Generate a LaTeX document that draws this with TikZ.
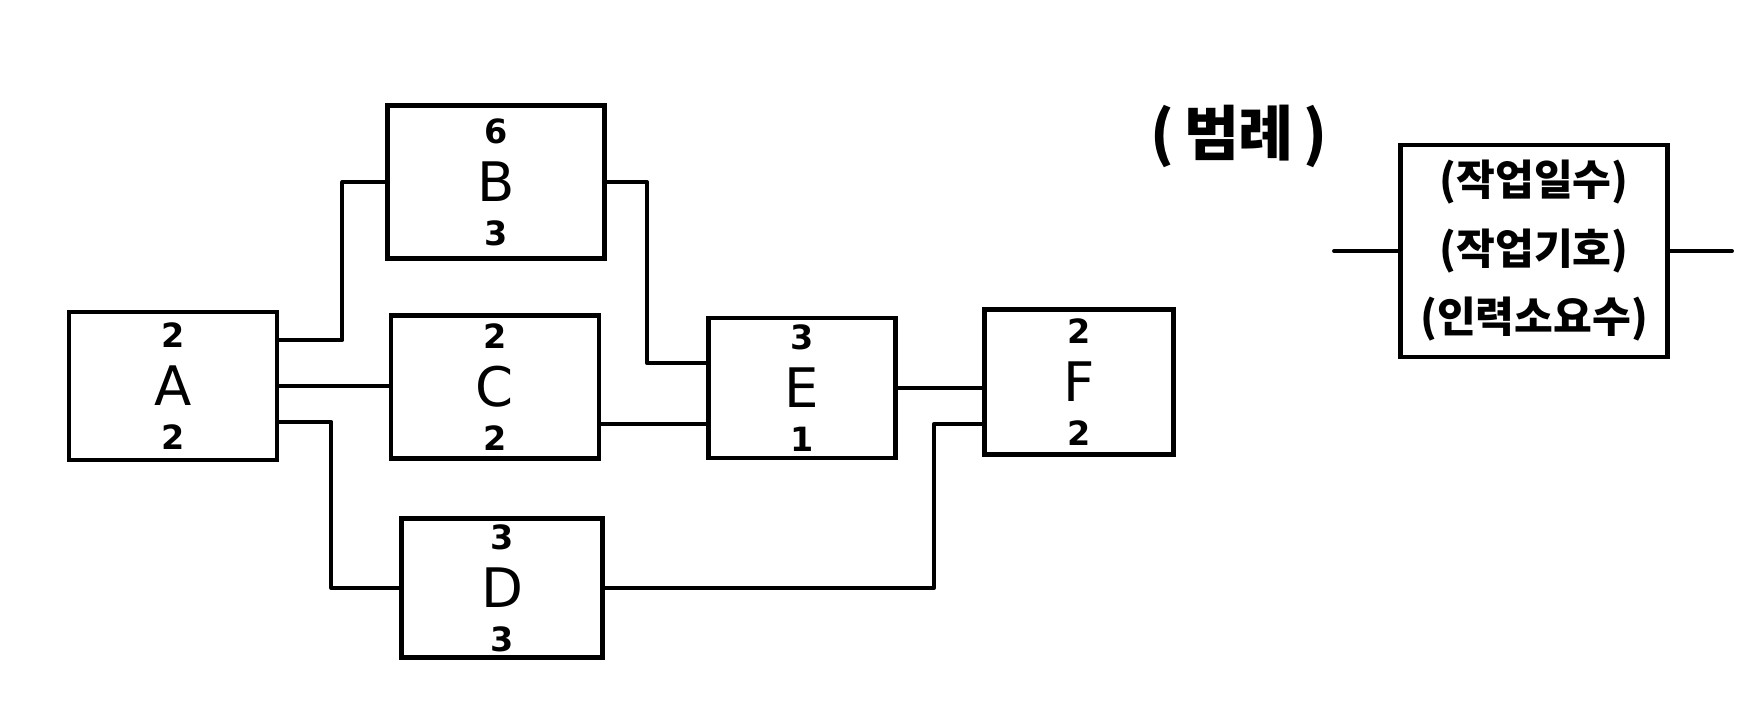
\documentclass[tikz,border=0pt]{standalone}
\usepackage{fontspec}
\setmainfont{DejaVu Sans}
\newfontfamily\kor{Noto Sans CJK KR}
\usetikzlibrary{calc}
\newcommand{\jobtext}[3]{\textbf{#1}\\[4pt]{\fontsize{31}{30}\selectfont #2}\\[-4pt]\textbf{#3}}

\begin{document}
\begin{tikzpicture}[x=0.02cm, y=-0.02cm,
  jobbox/.style={draw, line width=2.8pt, minimum width=4.1cm, minimum height=2.85cm,
                 align=center, font=\fontsize{19}{29}\selectfont},
  legbox/.style={draw, line width=2.8pt, minimum width=5.34cm, minimum height=4.24cm,
                 align=center, font=\kor\bfseries\fontsize{24}{39}\selectfont},
  link/.style={line width=2.3pt, line join=round, line cap=round}]
  \useasboundingbox (0,0) rectangle (1750,702);
  % activities
  \node[jobbox, minimum width=4.16cm, minimum height=2.96cm] (A) at (173,386) {\jobtext{2}{A}{2}};
  \node[jobbox, minimum width=4.34cm, minimum height=3.06cm] (B) at (496,182) {\jobtext{6}{B}{3}};
  \node[jobbox, minimum width=4.16cm] (C) at (495,387) {\jobtext{2}{C}{2}};
  \node[jobbox, minimum width=4.02cm, minimum height=2.78cm] (D) at (502,588) {\jobtext{3}{D}{3}};
  \node[jobbox, minimum width=3.74cm, minimum height=2.8cm] (E) at (802,388) {\jobtext{3}{E}{1}};
  \node[jobbox, minimum width=3.78cm, minimum height=2.9cm] (F) at (1079,382) {\jobtext{2}{F}{2}};
  % legend
  \node[font=\kor\bfseries\fontsize{34}{34}\selectfont] (leg) at (1239,136) {(\,범례\,)};
  \node[legbox] (L) at (1534,251) {(작업일수)\\(작업기호)\\(인력소요수)};
  \coordinate (lin) at ($(L.west)+(-64,0)$);
  \coordinate (lout) at ($(L.east)+(62,0)$);
  \draw[link] (lin) -- (L.west);
  \draw[link] (L.east) -- (lout);
  % connectors
  \coordinate (a1) at ($(A.east)+(0,-46)$);
  \coordinate (a3) at ($(A.east)+(0,36)$);
  \coordinate (c1) at ($(C.east)+(0,37)$);
  \draw[link] (a1) -- ++(63,0) |- (B.west);
  \draw[link] (A.east) -- (A.east -| C.west);
  \draw[link] (a3) -- ++(52,0) |- (D.west);
  \draw[link] (B.east) -- ++(40,0) |- ($(E.west)+(0,-25)$);
  \draw[link] (c1) -- (c1 -| E.west);
  \draw[link] (E.east) -- (E.east -| F.west);
  \draw[link] (D.east) -- ++(329,0) |- ($(F.west)+(0,42)$);
\end{tikzpicture}
\end{document}
